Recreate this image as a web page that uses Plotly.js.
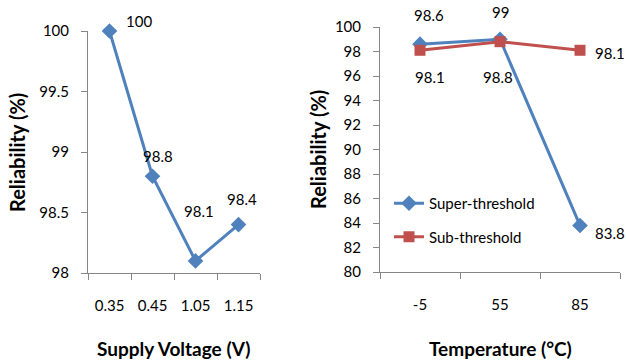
<!DOCTYPE html>
<html><head><meta charset="utf-8">
<script src="https://cdn.plot.ly/plotly-3.0.1.min.js"></script>
<style>body{margin:0;background:#fff}#c{width:626px;height:362px}</style>
</head><body><div id="c"></div>
<script>
// Left chart data
const voltages = ['0.35', '0.45', '1.05', '1.15'];
const voltReliability = [100, 98.8, 98.1, 98.4];
// Right chart data
const temps = ['-5', '55', '85'];
const superThreshold = [98.6, 99, 83.8];
const subThreshold = [98.1, 98.8, 98.1];
const leftYTicks = [98, 98.5, 99, 99.5, 100];
const rightYTicks = [80, 82, 84, 86, 88, 90, 92, 94, 96, 98, 100];

// label offsets in px (style only)
const voltLabelShift = [[29, 10], [5, 20], [3, 50], [3, 26]];
const superLabelShift = [[9, 29], [0, 27], [30, -8]];
const subLabelShift = [[10, -27], [-2, -35], [30, -3]];

const W = 626, H = 362;
const FONT = 'Lato, "Open Sans", sans-serif';
const blue = '#4F81BD', red = '#C0504D';

const traces = [
  {x: voltages, y: voltReliability, xaxis: 'x', yaxis: 'y', type: 'scatter', mode: 'lines+markers',
   line: {color: blue, width: 3}, marker: {symbol: 'diamond', size: 12, color: blue}, showlegend: false, cliponaxis: false},
  {x: temps, y: superThreshold, xaxis: 'x2', yaxis: 'y2', type: 'scatter', mode: 'lines+markers', name: 'Super-threshold',
   legendgroup: 'a',
   line: {color: blue, width: 3}, marker: {symbol: 'diamond', size: 12, color: blue}, cliponaxis: false},
  {x: temps, y: subThreshold, xaxis: 'x2', yaxis: 'y2', type: 'scatter', mode: 'lines+markers', name: 'Sub-threshold',
   legendgroup: 'b',
   line: {color: red, width: 3}, marker: {symbol: 'square', size: 11, color: red}, cliponaxis: false}
];

// category axes: annotations are placed by category index
function labels(xs, ys, shifts, xr, yr) {
  return xs.map((x, i) => ({x: i, y: ys[i], xref: xr, yref: yr, text: String(ys[i]), showarrow: false,
    xshift: shifts[i][0], yshift: shifts[i][1], xanchor: 'center', yanchor: 'middle',
    font: {family: FONT, size: 15, color: '#000'}}));
}

const axX = {type: 'category', showline: true, linecolor: '#868686', linewidth: 1, ticks: 'outside', tickson: 'boundaries',
  ticklen: 6, tickcolor: '#868686', showgrid: false, zeroline: false, tickfont: {family: FONT, size: 15, color: '#000'},
  ticklabelstandoff: 19, fixedrange: true};
const axY = {showline: true, linecolor: '#868686', linewidth: 1, ticks: 'outside', ticklen: 6, tickcolor: '#868686',
  showgrid: false, zeroline: false, tickfont: {family: FONT, size: 15, color: '#000'}, ticklabelstandoff: 9, fixedrange: true};

const titleAnns = [
  {text: '<b>Reliability (%)</b>', xref: 'paper', yref: 'paper', x: 17 / W, y: 1 - 153 / H, textangle: -90,
   showarrow: false, font: {family: FONT, size: 20}, xanchor: 'center', yanchor: 'middle'},
  {text: '<b>Supply Voltage (V)</b>', xref: 'paper', yref: 'paper', x: 173 / W, y: 1 - 348 / H,
   showarrow: false, font: {family: FONT, size: 19}, xanchor: 'center', yanchor: 'middle'},
  {text: '<b>Reliability (%)</b>', xref: 'paper', yref: 'paper', x: 318 / W, y: 1 - 150 / H, textangle: -90,
   showarrow: false, font: {family: FONT, size: 20}, xanchor: 'center', yanchor: 'middle'},
  {text: '<b>Temperature (°C)</b>', xref: 'paper', yref: 'paper', x: 500 / W, y: 1 - 348 / H,
   showarrow: false, font: {family: FONT, size: 19}, xanchor: 'center', yanchor: 'middle'}
];

const layout = {
  width: W, height: H, margin: {l: 0, r: 0, t: 0, b: 0}, paper_bgcolor: '#fff', plot_bgcolor: 'rgba(0,0,0,0)',
  font: {family: FONT, color: '#000'},
  xaxis: Object.assign({}, axX, {domain: [88 / W, 260 / W], anchor: 'y', range: [-0.5, 3.5]}),
  yaxis: Object.assign({}, axY, {domain: [89 / H, 331 / H], anchor: 'x', range: [98, 100], tickvals: leftYTicks}),
  xaxis2: Object.assign({}, axX, {domain: [380 / W, 620 / W], anchor: 'y2', range: [-0.5, 2.5]}),
  yaxis2: Object.assign({}, axY, {domain: [90 / H, 335 / H], anchor: 'x2', range: [80, 100], tickvals: rightYTicks}),
  showlegend: true,
  legend: {x: 389 / W, y: 1 - 187 / H, xanchor: 'left', yanchor: 'top', bgcolor: 'rgba(0,0,0,0)',
    font: {family: FONT, size: 15, color: '#000'}, traceorder: 'grouped', tracegroupgap: 11, itemwidth: 30},
  annotations: titleAnns
    .concat(labels(voltages, voltReliability, voltLabelShift, 'x', 'y'))
    .concat(labels(temps, superThreshold, superLabelShift, 'x2', 'y2'))
    .concat(labels(temps, subThreshold, subLabelShift, 'x2', 'y2'))
};
Plotly.newPlot('c', traces, layout, {staticPlot: true, displayModeBar: false});
</script></body></html>
